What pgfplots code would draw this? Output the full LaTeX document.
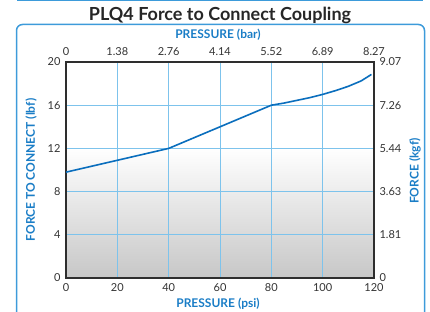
\documentclass[border=0pt]{standalone}
\usepackage{fontspec}
\setmainfont{Lato}
\usepackage{pgfplots}
\pgfplotsset{compat=1.18}
\definecolor{lblblue}{HTML}{1A7DC6}
\definecolor{curveblue}{HTML}{0A6EBD}
\definecolor{gridblue}{HTML}{7DC3EC}
\definecolor{frameblue}{HTML}{3D9BDA}
\definecolor{axgray}{HTML}{2E2E2E}
\pgfdeclareverticalshading{bgshade}{100bp}{color(0bp)=(black!22); color(25bp)=(black!22); color(40bp)=(black!11); color(55bp)=(white); color(100bp)=(white)}
\begin{document}
\begin{tikzpicture}
\useasboundingbox (0pt,0pt) rectangle (430pt,311pt);
\draw[frameblue, line width=1.5pt] (17pt,310.3pt) -- (423pt,310.3pt);
\draw[frameblue, line width=1.5pt, rounded corners=6pt] (16.5pt,-10pt) -- (16.5pt,286.5pt) -- (424.5pt,286.5pt) -- (424.5pt,-10pt);
\node[anchor=base, font=\bfseries\fontsize{18}{20}\selectfont, text=black!85] at (220pt,290pt) {PLQ4 Force to Connect Coupling};
\node[anchor=base, font=\bfseries\fontsize{12}{14}\selectfont, text=lblblue] at (218pt,272pt) {PRESSURE (bar)};
\node[anchor=base, font=\bfseries\fontsize{12}{14}\selectfont, text=lblblue] at (218pt,4pt) {PRESSURE (psi)};
\node[rotate=90, font=\bfseries\fontsize{12}{14}\selectfont, text=lblblue] at (31pt,141pt) {FORCE TO CONNECT (lbf)};
\node[rotate=90, font=\bfseries\fontsize{12}{14}\selectfont, text=lblblue] at (415pt,140pt) {FORCE (kgf)};
\begin{axis}[
  at={(66pt,33pt)}, anchor=south west, scale only axis, width=308pt, height=216pt,
  xmin=0, xmax=120, ymin=0, ymax=20,
  xtick={0,20,...,120}, ytick={0,4,...,20},
  grid=major, grid style={gridblue, line width=1pt},
  axis line style={axgray, line width=1.6pt},
  tick style={draw=none},
  axis background/.style={shading=bgshade},
  ticklabel style={font=\fontsize{11}{12}\selectfont, text=black!80},
  /pgf/number format/assume math mode=true,
  xticklabel style={yshift=-2pt},
  yticklabel style={xshift=-2pt},
]
\addplot[curveblue, line width=1.6pt] coordinates {
(0,9.8) (20,10.9) (40,12) (60,14) (80,16) (85,16.2) (90,16.45) (95,16.7) (100,17.0) (105,17.35) (110,17.75) (115,18.25) (119,18.85)};
\end{axis}
\begin{axis}[
  at={(66pt,33pt)}, anchor=south west, scale only axis, width=308pt, height=216pt,
  xmin=0, xmax=120, ymin=0, ymax=20,
  axis x line*=top, axis y line*=right,
  axis line style={draw=none},
  xtick={0,20,...,120}, ytick={0,4,...,20},
  xticklabels={0,1.38,2.76,4.14,5.52,6.89,8.27},
  yticklabels={0,1.81,3.63,5.44,7.26,9.07},
  tick style={draw=none},
  ticklabel style={font=\fontsize{11}{12}\selectfont, text=black!80},
  xticklabel style={yshift=3pt},
  yticklabel style={xshift=2pt},
]
\end{axis}
\end{tikzpicture}
\end{document}
